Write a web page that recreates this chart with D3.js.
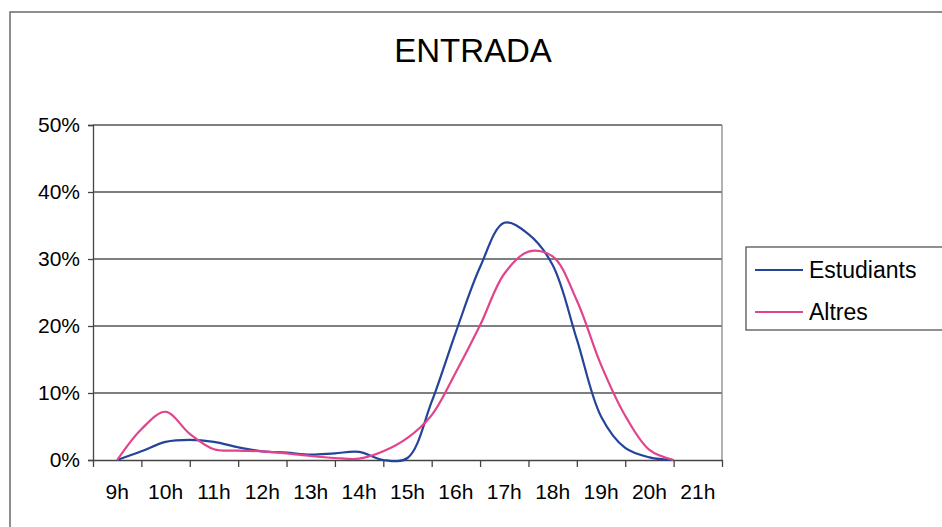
<!DOCTYPE html>
<html>
<head>
<meta charset="utf-8">
<script src="https://cdn.jsdelivr.net/npm/d3@7"></script>
<style>
    body { margin: 0; background: #fff; }
    svg { font-family: Arial, "Liberation Sans", sans-serif; }
</style>
</head>
<body>
<div id="chart"></div>
<script>
// hour labels on the x axis
let hourLabels = ["9h", "10h", "11h", "12h", "13h", "14h", "15h", "16h", "17h", "18h", "19h", "20h", "21h"];

// times (in hours) of the plotted points, every half hour
let times = [9, 9.5, 10, 10.5, 11, 11.5, 12, 12.5, 13, 13.5, 14, 14.5, 15, 15.5,
    16, 16.5, 17, 17.5, 18, 18.5, 19, 19.5, 20, 20.5];

// percentages
let estudiants = [0, 1.3, 2.7, 3.0, 2.7, 1.9, 1.3, 1.1, 0.8, 1.0, 1.2, 0, 0.3, 8.7,
    19.1, 28.8, 35.4, 33.7, 29.1, 18.0, 6.5, 1.8, 0.4, 0];
let altres = [0, 4.6, 7.2, 3.9, 1.6, 1.4, 1.3, 1.0, 0.6, 0.3, 0.2, 1.3, 3.3, 6.7,
    13.1, 20.1, 27.8, 31.1, 30.4, 23.8, 14.2, 6.6, 1.5, 0];

let yTicks = [0, 10, 20, 30, 40, 50];
let seriesNames = ["Estudiants", "Altres"];
let seriesColors = ["#24449a", "#e2448c"];

let W = 942, H = 527;
let svg = d3.select("#chart").append("svg")
    .attr("width", W)
    .attr("height", H);

// outer frame of the scanned chart
svg.append("rect")
    .attr("x", 10)
    .attr("y", 12)
    .attr("width", W)
    .attr("height", H)
    .attr("fill", "none")
    .attr("stroke", "#6a6a6a")
    .attr("stroke-width", 1.5);

// title
svg.append("text")
    .attr("x", 473)
    .attr("y", 62)
    .attr("text-anchor", "middle")
    .style("font-size", "33px")
    .text("ENTRADA");

let plotLeft = 93, plotRight = 722, plotTop = 125, plotBottom = 460;

let x = d3.scaleLinear().domain([8.5, 21.5]).range([plotLeft, plotRight]);
let xBand = d3.scaleBand().domain(hourLabels).range([plotLeft, plotRight]);
let y = d3.scaleLinear().domain([0, 50]).range([plotBottom, plotTop]);

// gridlines
svg.append("g")
    .selectAll("line")
    .data(yTicks.filter(d => d > 0))
    .enter().append("line")
    .attr("x1", plotLeft)
    .attr("x2", plotRight)
    .attr("y1", d => y(d))
    .attr("y2", d => y(d))
    .attr("stroke", "#555")
    .attr("stroke-width", 1.3);

// right border of plot area
svg.append("line")
    .attr("x1", plotRight).attr("x2", plotRight)
    .attr("y1", plotTop).attr("y2", plotBottom)
    .attr("stroke", "#888")
    .attr("stroke-width", 1.3);

// y axis
let yAxis = svg.append("g")
    .attr("transform", "translate(" + plotLeft + ",0)")
    .call(d3.axisLeft(y).tickValues(yTicks).tickFormat(d => d + "%").tickSize(5).tickPadding(8));
yAxis.selectAll("text").style("font-size", "21px").attr("fill", "#000");
yAxis.selectAll("line, path").attr("stroke", "#444").attr("stroke-width", 1.3);

// x axis: tick marks on the band boundaries
let xTicks = svg.append("g")
    .attr("transform", "translate(0," + plotBottom + ")")
    .call(d3.axisBottom(x).tickValues(d3.range(8.5, 21.6, 1)).tickFormat("").tickSize(7).tickSizeOuter(0));
xTicks.selectAll("line, path").attr("stroke", "#444").attr("stroke-width", 1.3);

// x axis labels centred in the bands
let xLabels = svg.append("g")
    .attr("transform", "translate(0," + plotBottom + ")")
    .call(d3.axisBottom(xBand).tickSize(0).tickPadding(24));
xLabels.select(".domain").remove();
xLabels.selectAll("text").style("font-size", "21px").attr("fill", "#000");

// lines
let line = d3.line()
    .curve(d3.curveCatmullRom.alpha(0.5))
    .x((d, i) => x(times[i]))
    .y(d => y(d));

[estudiants, altres].forEach(function (values, i) {
    svg.append("path")
        .datum(values)
        .attr("fill", "none")
        .attr("stroke", seriesColors[i])
        .attr("stroke-width", 2.2)
        .attr("d", line);
});

// legend
let legend = svg.append("g");
legend.append("rect")
    .attr("x", 746)
    .attr("y", 247)
    .attr("width", 220)
    .attr("height", 83)
    .attr("fill", "#fff")
    .attr("stroke", "#555")
    .attr("stroke-width", 1.3);

seriesNames.forEach(function (name, i) {
    let ly = 270 + i * 42;
    legend.append("line")
        .attr("x1", 755)
        .attr("x2", 803)
        .attr("y1", ly)
        .attr("y2", ly)
        .attr("stroke", seriesColors[i])
        .attr("stroke-width", 2);
    legend.append("text")
        .attr("x", 809)
        .attr("y", ly + 8)
        .style("font-size", "23px")
        .text(name);
});
</script>
</body>
</html>
